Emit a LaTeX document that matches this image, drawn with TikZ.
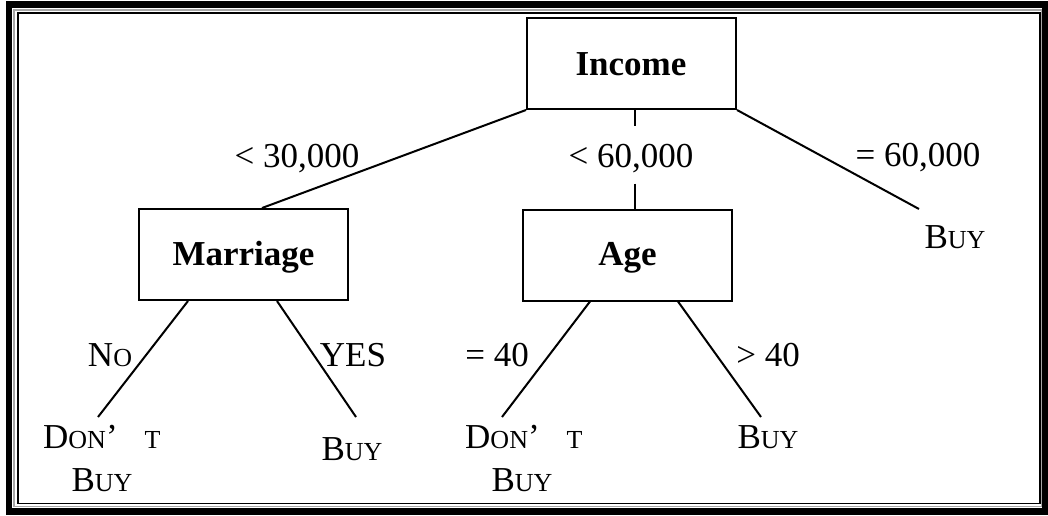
\documentclass[tikz,border=0pt]{standalone}
\usepackage{fontspec}
\setmainfont{Liberation Serif}
\usetikzlibrary{calc}
% small capitals imitated by a smaller size
\newcommand\fakesc[1]{{\fontsize{26}{26}\selectfont #1}}
\begin{document}
\begin{tikzpicture}[x=1pt,y=-1pt,
  every node/.style={font=\fontsize{35}{38}\selectfont},
  decision/.style={draw,line width=2pt,minimum width=209pt,minimum height=91pt,inner sep=0pt,font=\fontsize{35}{38}\selectfont\bfseries},
  lbl/.style={inner sep=0pt,anchor=base},
  edge/.style={line width=2pt}]
\useasboundingbox (0,0) rectangle (1048,515);
% frame: thick outer band, thin inner lines
\draw[line width=6.5pt] (9,4.5) rectangle (1045,511.5);
\draw[gray!70,line width=1.2pt] (14,10) rectangle (1041.5,506.5);
\draw[line width=1.5pt] (18,12.8) rectangle (1040,503.5);

% decision boxes
\node[decision] (inc) at (631.5,63.5) {};
\node[lbl] at (631,75) {\bfseries Income};
\node[decision] (mar) at (243.5,254.5) {};
\node[lbl] at (243.5,265) {\bfseries Marriage};
\node[decision] (age) at (627,255) {};
\node[lbl] at (627.5,265) {\bfseries Age};

% branch labels
\node[lbl] (l30) at (297,167) {< 30,000};
\node[lbl] (l60) at (631,167) {< 60,000};
\node[lbl] (e60) at (918,166) {= 60,000};
\node[lbl] (lno) at (110,366) {N\fakesc{O}};
\node[lbl] (lyes) at (353,366) {YES};
\node[lbl] (le40) at (497,366) {= 40};
\node[lbl] (lg40) at (768,366) {> 40};

% leaves
\node[lbl] (buyA) at (955,248) {B\fakesc{UY}};
\node[lbl,anchor=base west] (dontB) at (43,448) {D\fakesc{ON}’\hspace{27pt}\fakesc{T}};
\node[lbl] (dontBb) at (102,491) {B\fakesc{UY}};
\node[lbl] (buyC) at (352,460) {B\fakesc{UY}};
\node[lbl,anchor=base west] (dontD) at (465,448) {D\fakesc{ON}’\hspace{27pt}\fakesc{T}};
\node[lbl] (dontDb) at (522,491) {B\fakesc{UY}};
\node[lbl] (buyE) at (768,448) {B\fakesc{UY}};

% free ends of the branches
\coordinate (endA) at (919,209);
\coordinate (endB) at (98,417);
\coordinate (endC) at (356,417);
\coordinate (endD) at (502,417);
\coordinate (endE) at (761,417);

% connectors
\draw[edge] (inc.south west) -- ($(mar.north)+(18.5,0)$);
\draw[edge] ($(inc.south)+(3.5,0)$) -- ($(inc.south)+(3.5,16)$);
\draw[edge] ($(age.north)+(8,-25)$) -- ($(age.north)+(8,0)$);
\draw[edge] (inc.south east) -- (endA);
\draw[edge] ($(mar.south)+(-55.5,0)$) -- (endB);
\draw[edge] ($(mar.south)+(33.5,0)$) -- (endC);
\draw[edge] ($(age.south)+(-37,0)$) -- (endD);
\draw[edge] ($(age.south)+(51,0)$) -- (endE);
\end{tikzpicture}
\end{document}
